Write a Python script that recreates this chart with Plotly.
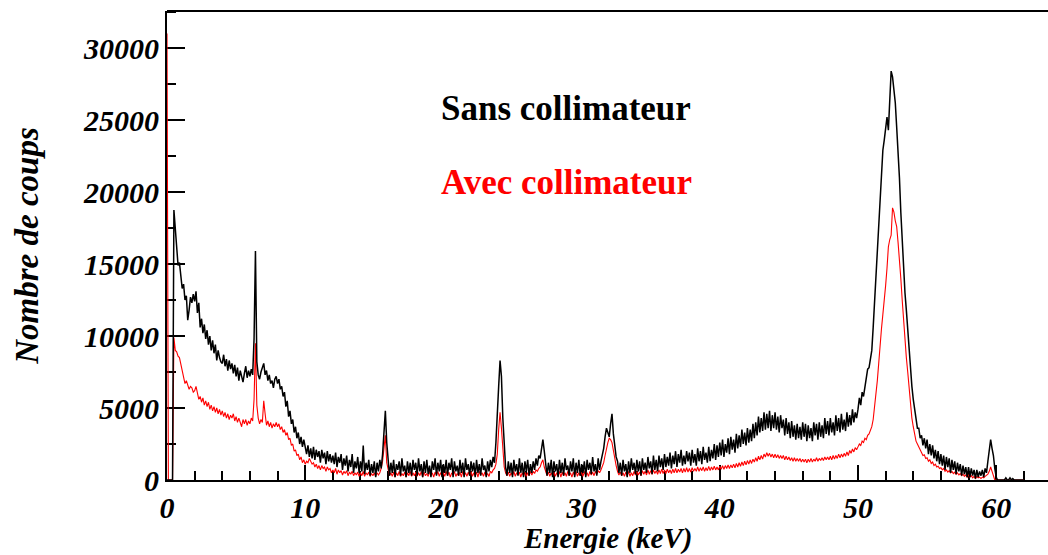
import plotly.graph_objects as go

# Energy channels: 0.1 keV wide, first channel at 0 keV
E_START = 0.0
E_STEP = 0.1

# Counts per channel, without collimator (20 channels = 2 keV per row)
sans_collimateur = [
    0, 0, 0, 0, 0, 18750, 17600, 16000, 14900, 15100, 13900, 13300, 13600, 12500, 12800, 11100, 11800, 12700, 12300, 12900,
    12400, 13100, 11600, 12300, 10600, 11200, 10200, 10800, 9800, 10400, 9400, 10000, 9000, 9700, 8800, 9400, 8300, 9000, 8500, 8200,
    8100, 8700, 7900, 8400, 7600, 8300, 7700, 8100, 7400, 8000, 7200, 7800, 6900, 7600, 7200, 6800, 7400, 7900, 7100, 7600,
    7200, 7700, 7300, 9800, 15900, 8200, 7300, 7000, 7500, 7800, 8100, 7300, 7600, 6900, 7300, 6700, 6900, 6400, 7000, 7200,
    6700, 7000, 6300, 6500, 5800, 6100, 5100, 5500, 4400, 4800, 3900, 4200, 3300, 3700, 2900, 3300, 2500, 3000, 2300, 2800,
    2300, 1800, 2400, 1600, 2200, 1500, 2300, 1400, 2100, 1600, 2000, 1200, 2100, 1500, 1900, 1100, 2000, 1300, 1800, 1200,
    1700, 1100, 1900, 900, 1600, 1200, 1800, 700, 1500, 1000, 1700, 600, 1400, 900, 1800, 500, 1300, 800, 1600, 500,
    1300, 600, 2400, 400, 1200, 700, 1400, 300, 1100, 500, 1300, 200, 1200, 600, 1400, 800, 1800, 3200, 4800, 2600,
    1500, 300, 1200, 500, 1400, 200, 1100, 700, 1300, 300, 1500, 600, 1000, 200, 1300, 500, 1200, 300, 1400, 700,
    1200, 300, 1500, 600, 1100, 200, 1300, 500, 1400, 400, 1000, 200, 1300, 700, 1500, 300, 1200, 600, 1400, 200,
    1100, 500, 1400, 300, 1200, 700, 1500, 200, 1300, 600, 1000, 300, 1400, 500, 1200, 200, 1500, 700, 1100, 300,
    1300, 600, 1200, 200, 1400, 500, 1100, 300, 1500, 700, 1000, 200, 1300, 600, 1400, 900, 1600, 1200, 2600, 4200,
    6500, 8300, 7200, 4300, 2100, 900, 300, 1300, 500, 1200, 200, 1400, 600, 1100, 300, 1500, 500, 1200, 200, 1300,
    600, 1400, 300, 1100, 500, 1300, 700, 1500, 1000, 1700, 1500, 2200, 2800, 2000, 1100, 300, 1200, 500, 1400, 200,
    1300, 600, 1100, 200, 1400, 500, 1200, 300, 1500, 700, 1000, 300, 1300, 600, 1500, 200, 1200, 500, 1400, 300,
    1100, 500, 1300, 200, 1400, 700, 1200, 400, 1600, 600, 1100, 300, 1500, 700, 1300, 1700, 2200, 3000, 3600, 3300,
    3000, 3900, 4600, 3200, 2400, 1600, 1300, 500, 1200, 300, 1400, 600, 1100, 200, 1300, 500, 1500, 700, 1200, 400,
    1400, 600, 1300, 300, 1500, 700, 1200, 500, 1600, 800, 1300, 400, 1700, 700, 1400, 600, 1700, 900, 1500, 700,
    1800, 900, 1600, 1000, 1900, 800, 1700, 1100, 2000, 900, 1800, 1200, 2100, 1000, 1700, 1100, 2000, 1300, 1900, 1000,
    2100, 1200, 1800, 1000, 2200, 1300, 2000, 1100, 2300, 1400, 1900, 1200, 2300, 1300, 2100, 1500, 2500, 1400, 2400, 1600,
    2600, 1700, 2800, 1600, 2500, 1900, 2900, 1800, 3000, 2100, 2800, 1900, 3200, 2200, 3100, 2300, 3500, 2500, 3300, 2400,
    3600, 2600, 3500, 2700, 3900, 2900, 4000, 3100, 4400, 3300, 4300, 3400, 4700, 3500, 4600, 3600, 4800, 3400, 4500, 3600,
    4700, 3500, 4400, 3300, 4500, 3600, 4200, 3100, 4300, 3200, 4000, 2900, 4100, 3000, 3800, 2800, 3900, 2900, 3700, 2800,
    4000, 3000, 3900, 2700, 3800, 2900, 3600, 2700, 4000, 3100, 3900, 2800, 4000, 3000, 3800, 2900, 4300, 3200, 4100, 3100,
    4300, 3300, 4000, 3100, 4500, 3400, 4300, 3300, 4600, 3500, 4200, 3400, 4700, 3700, 4500, 3800, 4900, 4000, 4700, 4300,
    4900, 5700, 5200, 6100, 5800, 6500, 6900, 7700, 7800, 8600, 9000, 10600, 12400, 13800, 16200, 18000, 19900, 21200, 22900, 23600,
    24500, 25200, 24300, 26500, 28400, 28000, 27000, 26200, 24500, 23000, 21000, 18600, 16400, 14700, 13000, 11800, 10300, 9000, 7700, 6500,
    5600, 4800, 4400, 3600, 3600, 2900, 3100, 2400, 2900, 2200, 2800, 1800, 2500, 1700, 2400, 1500, 2100, 1300, 2000, 1100,
    1800, 1000, 1700, 700, 1600, 900, 1500, 500, 1400, 700, 1300, 400, 1200, 600, 1100, 300, 1000, 400, 900, 200,
    900, 200, 800, 300, 700, 100, 700, 200, 600, 300, 700, 200, 800, 500, 1300, 2000, 2800, 2200, 1700, 800,
    200, 0, 0, 0, 0, 0, 0, 150, 0, 0, 150, 0, 100, 0, 0, 0, 0, 0, 0, 0, 0,
]

# Counts per channel, with collimator
avec_collimateur = [
    31000, 0, 0, 0, 0, 9900, 9000, 8900, 8600, 8500, 8000, 7600, 7200, 6700, 6900, 6600, 6300, 6500, 6400, 6100,
    6200, 6500, 5900, 5600, 5800, 5400, 5700, 5200, 5500, 5100, 5400, 4900, 5200, 4800, 5100, 4700, 5000, 4600, 4900, 4500,
    4800, 4400, 4700, 4300, 4600, 4200, 4500, 4300, 4600, 4100, 4400, 4000, 4300, 3900, 3700, 4200, 3900, 4200, 3800, 4100,
    3900, 4300, 4100, 5600, 9500, 5200, 4300, 3900, 4200, 4000, 5500, 4600, 3800, 4100, 3700, 4000, 3600, 3900, 3700, 4000,
    3700, 3900, 3500, 3700, 3300, 3500, 3100, 3300, 2800, 2900, 2400, 2500, 2000, 2100, 1700, 1800, 1400, 1600, 1200, 1400,
    1100, 1300, 1200, 1500, 1300, 1100, 1200, 900, 1100, 800, 1000, 700, 1000, 800, 900, 600, 900, 700, 800, 500,
    700, 500, 800, 400, 700, 500, 650, 350, 600, 450, 650, 300, 550, 400, 600, 300, 500, 350, 550, 250,
    500, 300, 600, 250, 500, 350, 550, 250, 450, 300, 500, 250, 500, 350, 500, 800, 1300, 2200, 3100, 1200,
    600, 300, 500, 250, 550, 200, 500, 300, 600, 250, 450, 300, 550, 200, 500, 300, 600, 250, 500, 300,
    550, 250, 500, 300, 600, 200, 550, 300, 450, 250, 600, 300, 500, 200, 550, 350, 600, 250, 500, 300,
    500, 250, 600, 300, 550, 200, 500, 350, 600, 250, 450, 300, 550, 200, 600, 300, 500, 250, 550, 300,
    600, 250, 500, 300, 550, 200, 600, 350, 500, 250, 550, 300, 450, 250, 600, 500, 700, 800, 1100, 1800,
    3500, 4700, 3600, 2000, 900, 500, 300, 550, 250, 500, 300, 600, 250, 500, 350, 550, 200, 500, 300, 550,
    250, 500, 300, 600, 350, 600, 450, 700, 600, 800, 900, 1200, 1400, 900, 500, 300, 550, 250, 500, 300,
    550, 250, 500, 300, 600, 200, 550, 300, 500, 250, 600, 300, 500, 200, 550, 300, 600, 250, 500, 300,
    550, 250, 600, 300, 500, 250, 600, 350, 550, 300, 600, 400, 650, 500, 700, 900, 1200, 1700, 2300, 2600,
    2900, 2800, 2600, 2000, 1500, 1000, 600, 350, 550, 300, 500, 250, 550, 300, 600, 250, 500, 300, 600, 350,
    600, 350, 550, 300, 650, 400, 600, 350, 700, 400, 650, 400, 700, 450, 650, 400, 700, 450, 750, 450,
    700, 450, 750, 500, 700, 450, 750, 500, 800, 500, 750, 550, 800, 500, 800, 550, 850, 550, 800, 550,
    850, 600, 800, 600, 900, 600, 850, 650, 900, 600, 850, 650, 950, 650, 900, 700, 950, 700, 900, 700,
    950, 750, 1000, 750, 1000, 800, 1050, 800, 1050, 850, 1100, 850, 1150, 900, 1200, 950, 1250, 1000, 1300, 1050,
    1350, 1100, 1400, 1150, 1450, 1250, 1550, 1300, 1650, 1400, 1700, 1450, 1800, 1600, 1900, 1650, 1850, 1600, 1800, 1550,
    1800, 1550, 1750, 1500, 1700, 1500, 1700, 1400, 1650, 1400, 1600, 1350, 1550, 1300, 1550, 1300, 1500, 1300, 1500, 1250,
    1450, 1250, 1450, 1200, 1450, 1250, 1500, 1250, 1450, 1300, 1550, 1300, 1500, 1350, 1550, 1350, 1600, 1400, 1600, 1400,
    1650, 1400, 1700, 1450, 1700, 1500, 1800, 1550, 1800, 1600, 1850, 1650, 1950, 1700, 2050, 1850, 2150, 1950, 2250, 2100,
    2300, 2500, 2400, 2700, 2600, 2900, 2800, 3100, 3200, 3500, 3700, 4200, 5000, 5800, 6900, 8100, 9500, 10500, 11500, 12300,
    13500, 14700, 16200, 16700, 17000, 18900, 18600, 18000, 17600, 16500, 15500, 14000, 12500, 11000, 9500, 8500, 7500, 6300, 5200, 4300,
    3700, 3100, 2700, 2500, 2300, 2100, 1950, 1700, 1750, 1500, 1550, 1300, 1400, 1150, 1250, 1000, 1100, 900, 950, 800,
    850, 700, 800, 600, 700, 550, 650, 500, 600, 450, 550, 400, 500, 350, 450, 300, 400, 250, 350, 200,
    350, 200, 300, 150, 250, 100, 250, 150, 200, 100, 200, 150, 250, 300, 400, 600, 900, 600, 300, 0,
    0, 0, 0, 0, 0, 0, 0, 0, 0, 0, 0, 0, 0, 0, 0, 0, 0, 0, 0, 0, 0,
]

x_ticks = [0, 10, 20, 30, 40, 50, 60]
y_ticks = [0, 5000, 10000, 15000, 20000, 25000, 30000]

FONT = "Liberation Serif"
tick_font = dict(family=FONT, size=30, color="black", weight="bold", style="italic")
title_font = dict(family=FONT, size=33, color="black", weight="bold", style="italic")
xtitle_font = dict(family=FONT, size=29, color="black", weight="bold", style="italic")

fig = go.Figure()
fig.add_trace(go.Scatter(
    x0=E_START, dx=E_STEP, y=avec_collimateur, mode="lines",
    line=dict(color="#ff0000", width=1.1), name="Avec collimateur",
))
fig.add_trace(go.Scatter(
    x0=E_START, dx=E_STEP, y=sans_collimateur, mode="lines",
    line=dict(color="#000000", width=1.5), name="Sans collimateur",
))

fig.update_layout(
    width=1048, height=555,
    margin=dict(l=167, r=0, t=11, b=75),
    paper_bgcolor="white", plot_bgcolor="white",
    showlegend=False,
)

fig.update_xaxes(
    range=[0, 63.75], tickvals=x_ticks, ticktext=[str(v) for v in x_ticks],
    ticks="inside", ticklen=15, tickwidth=2, tickcolor="black",
    minor=dict(dtick=2, ticks="inside", ticklen=9, tickwidth=2, tickcolor="black"),
    showline=True, linewidth=2, linecolor="black", mirror=False,
    showgrid=False, zeroline=False, layer="below traces", automargin=False,
    tickfont=tick_font,
)
fig.update_yaxes(
    range=[0, 32570], tickvals=y_ticks, ticktext=[str(v) for v in y_ticks],
    ticks="inside", ticklen=18, tickwidth=2, tickcolor="black",
    minor=dict(dtick=2500, ticks="inside", ticklen=9, tickwidth=2, tickcolor="black"),
    showline=True, linewidth=2, linecolor="black", mirror=False,
    showgrid=False, zeroline=False, layer="below traces", automargin=False,
    tickfont=tick_font,
    title=dict(text="Nombre de coups", font=title_font, standoff=34),
)

# top frame line
fig.add_shape(type="line", xref="paper", yref="paper", x0=0, x1=1, y0=1, y1=1,
              line=dict(color="black", width=2))

# x-axis title, just above the bottom edge of the figure
fig.add_annotation(x=0.5, y=-0.1255, xref="paper", yref="paper",
                   text="Energie (keV)", showarrow=False,
                   xanchor="center", yanchor="middle", font=xtitle_font)

fig.add_annotation(x=28.9, y=25830, xref="x", yref="y",
                   text="Sans collimateur", showarrow=False,
                   xanchor="center", yanchor="middle",
                   font=dict(family=FONT, size=35, color="black", weight="bold"))
fig.add_annotation(x=28.9, y=20690, xref="x", yref="y",
                   text="Avec collimateur", showarrow=False,
                   xanchor="center", yanchor="middle",
                   font=dict(family=FONT, size=35, color="#ff0000", weight="bold"))

fig.write_html("out.html")
